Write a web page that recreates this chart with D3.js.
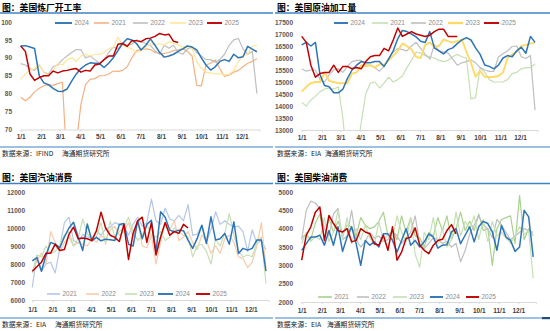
<!DOCTYPE html>
<html>
<head>
<meta charset="utf-8">
<script src="https://cdn.jsdelivr.net/npm/d3@7"></script>
<style>
  body { margin: 0; background: #fff; }
  svg { display: block; }
</style>
</head>
<body>
<div id="chart"></div>
<script>
// x axis labels (day of year of each month start)
var monthDays = [0, 31, 59, 90, 120, 151, 181, 212, 243, 273, 304, 334];
var monthLabels = ["1/1", "2/1", "3/1", "4/1", "5/1", "6/1", "7/1", "8/1", "9/1", "10/1", "11/1", "12/1"];

// ---- 美国炼厂开工率 (%), weekly
var refinery2021 = [79.0,78.0,79.0,80.5,81.5,82.2,82.5,82.3,82.8,83.2, 60.0,56.0,66.0,77.0,82.5,84.0,84.2,85.0,85.0,85.5,
  86.3,86.2,86.5,87.5,90.0,92.0,92.3,92.5,92.3,91.5, 91.3,91.2,91.5,92.0,92.2,92.5,91.8,90.5,82.3,82.2,
  88.0,88.5,89.4,87.0,84.8,85.2,86.0,86.5,87.5,88.5, 89.0,89.8];
var refinery2022 = [88.4,88.0,87.0,86.5,88.0,86.0,85.5,87.5,88.0,89.5, 90.5,91.5,92.3,92.3,90.0,90.5,89.5,88.5,89.5,91.5,
  93.0,92.5,94.0,93.5,93.8,95.0,94.5,94.0,93.5,92.0, 91.0,93.5,92.7,93.5,91.5,91.0,92.5,93.0,91.5,90.5,
  89.5,89.5,88.8,89.5,91.0,93.5,95.0,95.4,92.5,91.0, 91.8,80.0];
var refinery2023 = [84.0,85.5,86.5,87.0,88.0,86.0,85.0,86.5,88.5,88.0, 89.5,90.0,89.0,90.5,91.0,90.5,91.0,91.0,91.5,92.5,
  93.0,95.8,93.5,93.0,92.5,91.5,92.0,93.0,94.0,93.5, 94.0,93.5,94.5,94.0,93.5,93.0,93.2,92.5,89.0,87.0,
  86.0,85.8,85.5,85.5,85.3,85.4,86.5,89.0,90.5,91.0, 93.3,93.5];
var refinery2024 = [93.3,93.4,93.0,92.6,85.0,83.0,82.5,81.5,80.7,80.6, 81.3,83.5,85.5,87.0,88.0,88.6,88.5,88.4,87.3,88.5,
  90.0,92.0,94.0,95.3,95.0,94.0,92.2,93.5,95.3,93.5, 91.5,90.2,90.5,91.0,91.8,92.5,93.3,93.0,92.2,90.0,
  88.0,86.6,87.5,89.0,89.5,89.0,91.0,90.0,90.3,93.2, 92.4,91.7];
var refinery2025 = [93.3,91.8,85.5,83.7,84.5,85.0,85.0,86.3,85.8,86.3, 86.5,86.8,87.0,86.0,86.5,86.3,88.0,88.3,89.5,90.5,
  90.5,93.8,94.0,93.2,94.8,94.8,94.5,95.3,95.5,96.0, 96.8,96.4,96.6,94.6,94.3];
var refineryTicks = [70, 75, 80, 85, 90, 95, 100];

// ---- 美国原油加工量 (千桶/日), weekly
var runs2021 = [14150,14000,14250,14400,14600,14700,14750,14700,14800,13500, 11500,11500,12000,13300,14500,14950,15000,14750,14950,15200,
  15000,15100,15250,15600,15900,16250,16200,16100,16050,16000, 15900,15850,15900,16050,16150,16050,16000,14300,14350,15600,
  15400,15100,15000,15000,15000,15100,15350,15400,15550,15600, 15600,15750];
var runs2022 = [15550,15450,15500,15500,15100,15000,15300,15500,15550,15400, 15650,15850,15900,15900,15700,15700,15600,15450,15650,16000,
  16250,16400,16350,16300,16500,16650,16400,16150,15950,16550, 16300,16250,16200,15950,15700,15800,15850,15920,15800,15600,
  15500,15440,15440,16040,16180,16300,16480,16500,16050,15980, 16100,13830];
var runs2023 = [14600,14800,14950,15000,15000,15400,15050,15000,14950,14950, 14950,15350,15400,15700,15650,15700,15600,15750,15700,15900,
  16100,16300,16600,16500,16350,16050,16000,16550,16650,16450, 16500,16770,16700,16640,16700,16770,16260,15800,15220,15460,
  15220,15200,15220,15250,15400,16000,16150,16250,16500,16550, 16600,16650];
var runs2024 = [16550,16650,16500,16650,15300,14850,14800,14550,14550,14700, 15150,15500,15700,15850,15800,15800,15850,15850,15650,15950,
  16300,16800,17150,17100,17000,16880,16700,16650,17100,16420, 16300,16170,16350,16420,16600,16750,16850,16750,16420,16150,
  15710,15650,15550,15700,16000,16100,16050,16300,16450,16200, 16900,16650];
var runs2025 = [16900,16650,15700,15200,15350,15400,15400,15700,15400,15650, 15650,15550,15600,15550,15850,16050,16100,16100,16400,16300,
  16750,17250,16900,17000,17100,17000,16950,16900,16950,17100, 17200,17200,16900,16900,16900];
var runsTicks = [13000, 13500, 14000, 14500, 15000, 15500, 16000, 16500, 17000, 17500];

// ---- 美国汽油消费 (千桶/日), weekly
var gasoline2021 = [6700,8500,7600,8000,8100,7500,8900,10300,10600,9300, 9150,9650,9500,9400,9850,9600,9950,10050,10300,10200,
  10100,9600,10200,10600,10100,10300,11600,10400,10200,11100, 10500,10400,10700,10400,11300,9600,9650,10150,9200,9900,
  10900,10200,10400,10200,10050,10100,9800,8700,9900,9150, 9300,8800];
var gasoline2022 = [7500,8200,8600,8000,9800,9200,8700,9200,9500,9000, 9200,9100,9000,9400,9200,9600,9300,9900,10100,9600,
  9800,10300,9500,10400,9000,8900,9600,8000,9200,10300, 9900,10400,9300,9500,9800,9200,8800,9600,9300,8600,
  9000,8600,9400,9600,9200,8400,8300,7800,8100,9000, 10300,7800];
var gasoline2023 = [7500,8500,8400,9000,8600,8700,9100,9600,9800,9000, 9400,10500,9700,9300,9500,10300,9100,10400,9500,9800,
  10000,10600,9800,9300,9600,10200,9600,9500,9800,9300, 9500,10000,9800,9600,9500,8400,9000,9100,8700,8000,
  9400,9000,9700,10800,9600,8700,8400,8500,8400,9200, 9500,6900];
var gasoline2024 = [8170,8350,7600,8500,9200,9100,8900,9500,10000,10320, 9500,8750,10220,9290,9480,9290,9380,9350,9300,10200,
  10250,9100,9000,10400,9400,10200,10430,8680,10900,10600, 9880,9790,9880,9850,9330,8870,9420,10150,9140,10620,
  9330,9400,9700,9100,10340,8590,8870,8770,8870,9330, 9330,7600];
var gasoline2025 = [7600,7850,8100,8600,8600,9100,8750,8800,9650,10050, 9400,9450,9400,9300,9850,10880,10000,9600,9480,9250,
  10200,8250,9700,10400,10600,9200,10300,8500,9500,10300, 9600,9800,9700,10200,10000];
var gasolineTicks = [6000, 7000, 8000, 9000, 10000, 11000, 12000];

// ---- 美国柴油消费 (千桶/日), weekly
var diesel2021 = [3750,3850,3700,4150,4400,3700,4300,3900,4200,3850, 4100,4050,3800,4300,4100,4000,4050,4200,4450,3800,
  3950,3700,4350,3900,4300,3800,3750,3500,3900,3800, 4300,3950,4350,3700,4000,4450,3950,4200,3950,4400,
  3950,4000,3000,4000,4250,4300,4350,3600,4900,3700, 4000,3800];
var diesel2022 = [3700,4500,4750,4700,4550,4000,3800,4400,4550,3700, 3800,4500,3700,3500,3650,3900,3750,3800,3650,3700,
  3950,3800,3600,3750,3900,4350,3600,3450,3600,3750, 3700,3600,3650,3500,3600,3100,3400,3850,4100,4350,
  4100,4000,3750,4250,4100,3900,3700,3800,3900,4000, 3950,3900];
var diesel2023 = [3600,3900,3650,3800,3700,4300,3650,3900,4500,3700, 4300,3600,4000,3700,4100,3750,3550,4200,3650,3850,
  3700,4350,3900,3650,4300,3300,2950,3900,3700,4300, 3600,4000,3500,3700,4450,3800,4200,4000,4350,3700,
  4250,3650,4200,3800,3900,3750,3600,3800,4050,3850, 3950,2650];
var diesel2024 = [3410,3590,3770,3770,3820,3550,3950,3550,4050,3380, 3770,4050,3590,3000,3680,3550,3640,3500,3860,3860,
  3680,3360,3680,4000,3550,3680,3500,3640,3860,3770, 3470,3550,3560,3910,4000,3590,3820,4050,3640,4050,
  4200,4140,3910,3410,4090,3770,3680,3380,3500,4500, 4320,3230];
var diesel2025 = [3140,3820,4050,4450,4590,3680,4360,4140,3950,3910, 4000,3640,3680,4000,3910,3860,3590,3550,3820,3410,
  4050,3140,3360,3730,3770,4020,3550,3410,3320,3550, 3680,3710,3950,4110,3860];
var dieselTicks = [2000, 2500, 3000, 3500, 4000, 4500, 5000];

var BLUE = "#2e75b6", RED = "#c00000", GREY = "#bfbfbf";

// panel layout; series are drawn in the listed order, legend uses its own order
var panels = [
  {
    title: "图：美国炼厂开工率", src: "数据来源：IFIND", srcX2: 62,
    left: 0, right: 273, titleY: 10.5, ruleY: 13, srcRuleY: 147, srcY: 155.5,
    x0: 20.7, k: 0.6617, yDomain: [70, 100], yRange: [129.5, 22], ticks: refineryTicks, labelRight: 12, tickPad: 3,
    series: [
      { name: "2021", values: refinery2021, color: "#f4b183", w: 1.2 },
      { name: "2022", values: refinery2022, color: GREY, w: 1.2 },
      { name: "2023", values: refinery2023, color: "#ffe699", w: 1.2 },
      { name: "2024", values: refinery2024, color: BLUE, w: 1.5 },
      { name: "2025", values: refinery2025, color: RED, w: 1.5 }
    ],
    legendY: 23,
    legend: [["2024", 55, 72], ["2021", 94, 109], ["2022", 133, 148], ["2023", 170, 186], ["2025", 207, 222]]
  },
  {
    title: "图：美国原油加工量", src: "数据来源：EIA", srcX2: 325,
    left: 275, right: 550, titleY: 10.5, ruleY: 13, srcRuleY: 147, srcY: 155.5,
    x0: 301.7, k: 0.6536, yDomain: [13000, 17500], yRange: [130, 22], ticks: runsTicks, labelRight: 293, tickPad: 3,
    series: [
      { name: "2021", values: runs2021, color: "#c5e0b4", w: 1.2 },
      { name: "2022", values: runs2022, color: GREY, w: 1.2 },
      { name: "2023", values: runs2023, color: "#ffd966", w: 1.9 },
      { name: "2024", values: runs2024, color: BLUE, w: 1.5 },
      { name: "2025", values: runs2025, color: RED, w: 1.5 }
    ],
    legendY: 23,
    legend: [["2024", 334, 348], ["2021", 372, 388], ["2022", 411, 426], ["2023", 448, 463], ["2025", 484, 499]]
  },
  {
    title: "图：美国汽油消费", src: "数据来源：EIA", srcX2: 55,
    left: 0, right: 273, titleY: 181, ruleY: 183.5, srcRuleY: 318, srcY: 327,
    x0: 32.3, k: 0.6545, yDomain: [6000, 12000], yRange: [300, 192], ticks: gasolineTicks, labelRight: 25, tickPad: 5,
    series: [
      { name: "2021", values: gasoline2021, color: "#b4c7e7", w: 1.2 },
      { name: "2022", values: gasoline2022, color: "#f8cbad", w: 1.2 },
      { name: "2023", values: gasoline2023, color: "#c5e0b4", w: 1.2 },
      { name: "2024", values: gasoline2024, color: BLUE, w: 1.5 },
      { name: "2025", values: gasoline2025, color: RED, w: 1.5 }
    ],
    legendY: 294,
    legend: [["2021", 47, 60], ["2022", 86, 99], ["2023", 125, 137], ["2024", 158, 173], ["2025", 196, 210]]
  },
  {
    title: "图：美国柴油消费", src: "数据来源：EIA", srcX2: 327,
    left: 275, right: 550, titleY: 181, ruleY: 183.5, srcRuleY: 318, srcY: 327,
    x0: 301.7, k: 0.6485, yDomain: [2000, 5000], yRange: [302, 192], ticks: dieselTicks, labelRight: 293, tickPad: 4.5,
    series: [
      { name: "2021", values: diesel2021, color: "#a9d18e", w: 1.2 },
      { name: "2022", values: diesel2022, color: GREY, w: 1.2 },
      { name: "2023", values: diesel2023, color: "#c5e0b4", w: 1.2 },
      { name: "2024", values: diesel2024, color: BLUE, w: 1.5 },
      { name: "2025", values: diesel2025, color: RED, w: 1.5 }
    ],
    legendY: 297,
    legend: [["2021", 318, 332], ["2022", 357, 369], ["2023", 393, 407], ["2024", 430, 443], ["2025", 466, 479]]
  }
];

var svg = d3.select("#chart").append("svg")
  .attr("width", 550)
  .attr("height", 331)
  .style("background", "#fff");

var RULE = "#3f83c4";
var FONT = "'Liberation Sans', Arial, sans-serif";
var CJK = "'Noto Sans CJK SC', sans-serif";

panels.forEach(function(p, pi) {
  var g = svg.append("g");

  // title + rule under it
  g.append("text")
    .attr("x", p.left + 2).attr("y", p.titleY)
    .attr("font-family", CJK).attr("font-weight", "bold")
    .style("font-size", "8.8px").attr("fill", "#000")
    .text(p.title);
  g.append("line")
    .attr("x1", p.left).attr("x2", p.right)
    .attr("y1", p.ruleY).attr("y2", p.ruleY)
    .attr("stroke", RULE).attr("stroke-width", 1.3);

  // source line + text
  g.append("line")
    .attr("x1", p.left).attr("x2", p.right)
    .attr("y1", p.srcRuleY).attr("y2", p.srcRuleY)
    .attr("stroke", RULE).attr("stroke-width", 1.1);
  g.append("text")
    .attr("x", p.left + 2).attr("y", p.srcY)
    .attr("font-family", CJK).style("font-size", "6.8px").attr("fill", "#222")
    .text(p.src);
  g.append("text")
    .attr("x", p.srcX2).attr("y", p.srcY)
    .attr("font-family", CJK).style("font-size", "6.8px").attr("fill", "#222")
    .text("海通期货研究所");

  var lastDay = 361;
  var x = d3.scaleLinear()
    .domain([0, lastDay])
    .range([p.x0, p.x0 + lastDay * p.k]);
  var y = d3.scaleLinear()
    .domain(p.yDomain)
    .range(p.yRange);

  // y labels, plain numbers with no thousands separator
  g.append("g")
    .attr("transform", "translate(" + p.labelRight + ",0)")
    .call(d3.axisLeft(y).tickValues(p.ticks).tickFormat(d3.format("d")).tickSize(0).tickPadding(0))
    .call(function(a) { a.select(".domain").remove(); })
    .selectAll("text")
    .attr("font-family", FONT).attr("font-weight", "bold")
    .style("font-size", "6.5px").attr("fill", "#595959");

  // x axis
  var xa = g.append("g")
    .attr("transform", "translate(0," + p.yRange[0] + ")")
    .call(d3.axisBottom(x)
      .tickValues(monthDays)
      .tickFormat(function(d, i) { return monthLabels[i]; })
      .tickSize(2)
      .tickPadding(p.tickPad));
  xa.select(".domain").attr("stroke", "#d9d9d9");
  xa.selectAll(".tick line").attr("stroke", "#d9d9d9");
  xa.selectAll("text")
    .attr("font-family", FONT).attr("font-weight", "bold")
    .style("font-size", "6.5px").attr("fill", "#404040");

  // clip so out-of-range dips stop at the axis
  var clipId = "clip" + pi;
  svg.append("clipPath").attr("id", clipId)
    .append("rect")
    .attr("x", p.x0 - 3).attr("y", p.yRange[1] - 6)
    .attr("width", lastDay * p.k + 6)
    .attr("height", p.yRange[0] - p.yRange[1] + 6);

  var line = d3.line()
    .x(function(d, i) { return x(i * 7); })
    .y(function(d) { return y(d); });

  var lines = g.append("g").attr("clip-path", "url(#" + clipId + ")");
  p.series.forEach(function(s) {
    lines.append("path")
      .datum(s.values)
      .attr("fill", "none")
      .attr("stroke", s.color)
      .attr("stroke-width", s.w)
      .attr("stroke-linejoin", "round")
      .attr("d", line);
  });

  // legend
  var byName = {};
  p.series.forEach(function(s) { byName[s.name] = s; });
  p.legend.forEach(function(l) {
    var s = byName[l[0]];
    g.append("line")
      .attr("x1", l[1]).attr("x2", l[2])
      .attr("y1", p.legendY).attr("y2", p.legendY)
      .attr("stroke", s.color).attr("stroke-width", s.w + 0.4);
    g.append("text")
      .attr("x", l[2] + 2.5).attr("y", p.legendY + 2.3)
      .attr("font-family", FONT).style("font-size", "6.5px")
      .attr("fill", "#8c8c8c")
      .text(l[0]);
  });
});

// small dark mark at the bottom-right rule
svg.append("rect")
  .attr("x", 542).attr("y", 317).attr("width", 8).attr("height", 2.2)
  .attr("fill", "#1f4e79");
</script>
</body>
</html>
